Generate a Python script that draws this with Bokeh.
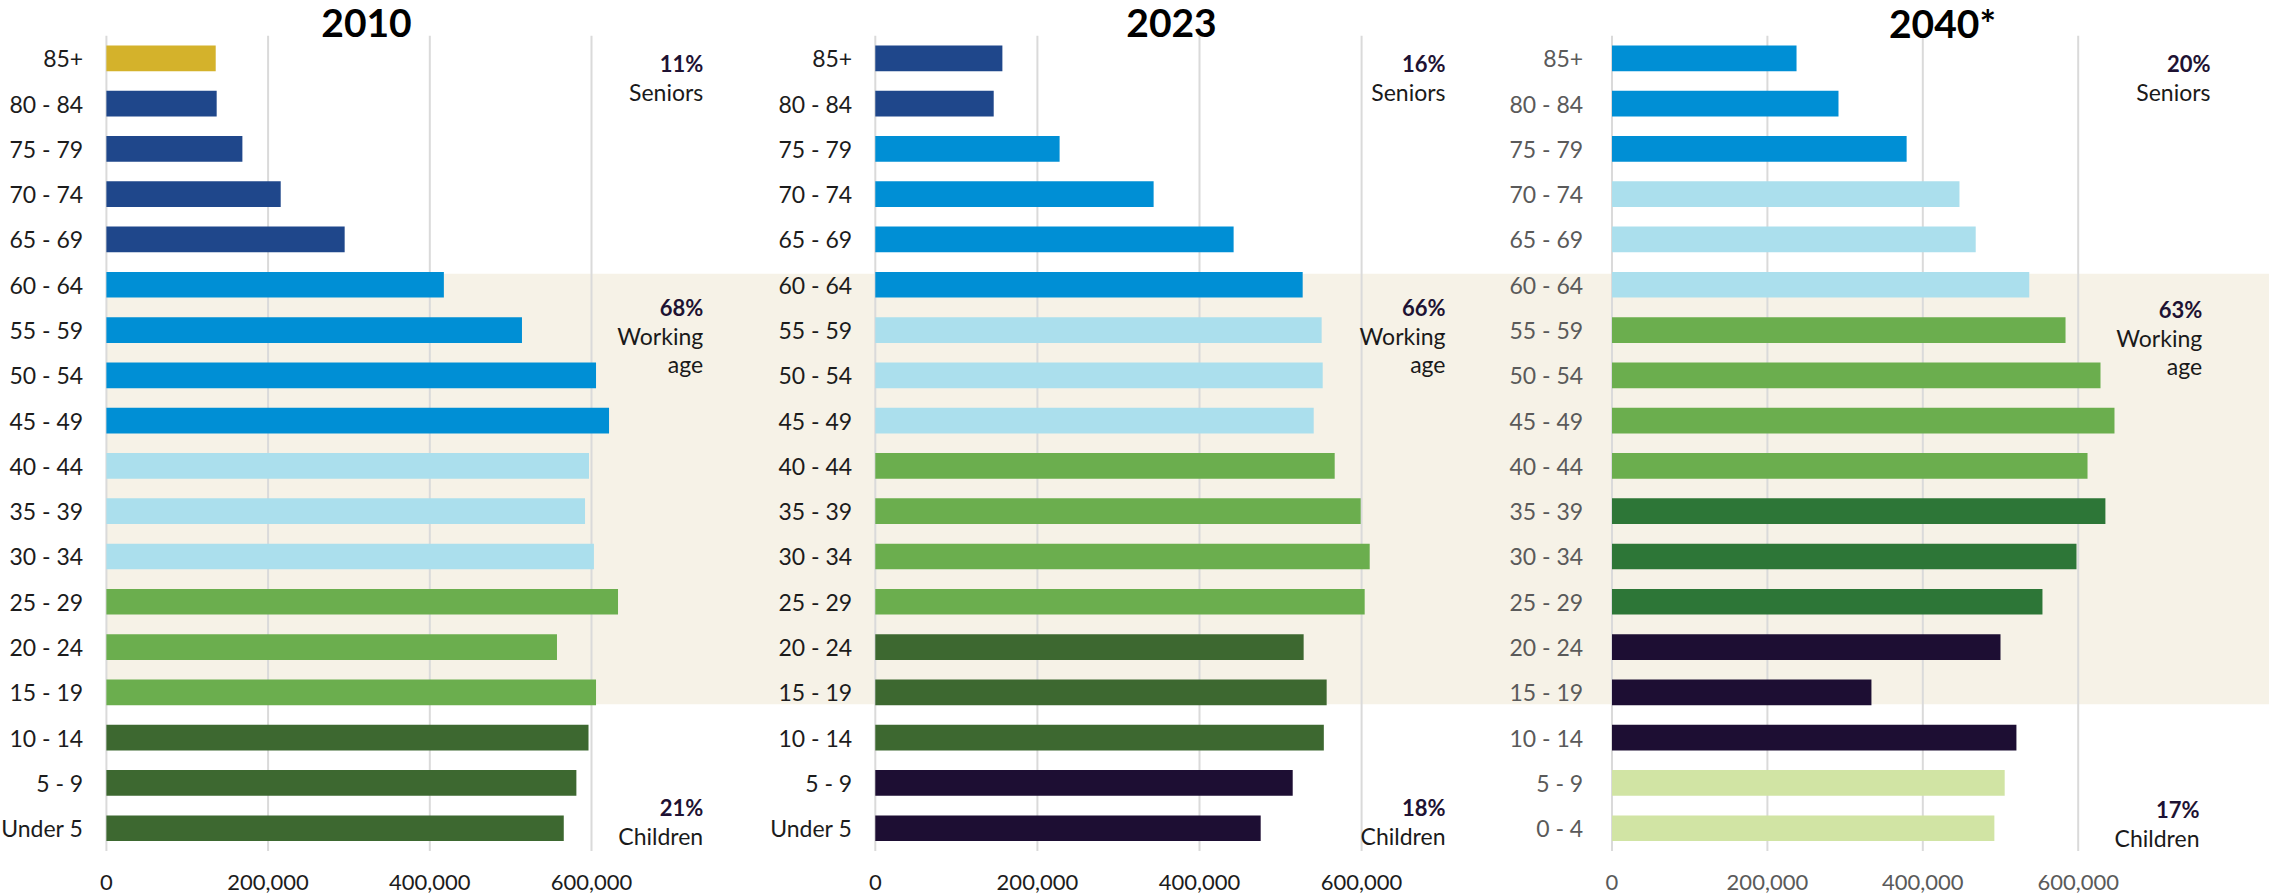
from bokeh.plotting import figure
from bokeh.models import (Range1d, FixedTicker, NumeralTickFormatter, ColumnDataSource,
                          LinearAxis)
from bokeh.embed import file_html
from bokeh.resources import INLINE
from bokeh.core.properties import value

# ---------------- data ----------------
years = ["2010", "2023", "2040*"]
ages = ["85+", "80 - 84", "75 - 79", "70 - 74", "65 - 69", "60 - 64", "55 - 59",
        "50 - 54", "45 - 49", "40 - 44", "35 - 39", "30 - 34", "25 - 29",
        "20 - 24", "15 - 19", "10 - 14", "5 - 9", "Under 5"]
ages_2040 = ["85+", "80 - 84", "75 - 79", "70 - 74", "65 - 69", "60 - 64", "55 - 59",
             "50 - 54", "45 - 49", "40 - 44", "35 - 39", "30 - 34", "25 - 29",
             "20 - 24", "15 - 19", "10 - 14", "5 - 9", "0 - 4"]

pop_2010 = [135200, 136400, 168200, 215600, 294700, 417400, 514000, 605600, 621700,
            596900, 592000, 603000, 632800, 557300, 605600, 596300, 581300, 565700]
pop_2023 = [156800, 146100, 227400, 343400, 442100, 527300, 550700, 552000, 540900,
            566800, 598900, 610000, 603800, 528500, 556900, 553400, 515000, 475500]
pop_2040 = [237500, 291500, 379200, 447200, 468100, 537000, 583700, 628700, 646700,
            612000, 635000, 597800, 554000, 500000, 333900, 520500, 505400, 492100]

gen_2010 = ["Greatest", "Silent", "Silent", "Silent", "Silent", "Boomers", "Boomers",
            "Boomers", "Boomers", "Gen X", "Gen X", "Gen X", "Millennials",
            "Millennials", "Millennials", "Gen Z", "Gen Z", "Gen Z"]
gen_2023 = ["Silent", "Silent", "Boomers", "Boomers", "Boomers", "Boomers", "Gen X",
            "Gen X", "Gen X", "Millennials", "Millennials", "Millennials", "Millennials",
            "Gen Z", "Gen Z", "Gen Z", "Gen Alpha", "Gen Alpha"]
gen_2040 = ["Boomers", "Boomers", "Boomers", "Gen X", "Gen X", "Gen X", "Millennials",
            "Millennials", "Millennials", "Millennials", "Gen Z", "Gen Z", "Gen Z",
            "Gen Alpha", "Gen Alpha", "Gen Alpha", "Gen Beta", "Gen Beta"]

share_2010 = ["11%", "68%", "21%"]
share_2023 = ["16%", "66%", "18%"]
share_2040 = ["20%", "63%", "17%"]
group_names = [["Seniors"], ["Working", "age"], ["Children"]]
working_span = ["60 - 64", "15 - 19"]
x_ticks = [0, 200000, 400000, 600000]

# ---------------- styles / layout ----------------
FONT = "Lato"
palette = {"Greatest": "#D4B22B", "Silent": "#1F478B", "Boomers": "#008FD5",
           "Gen X": "#ABDFED", "Millennials": "#6BAE4E", "Gen Z": "#3D6830",
           "Gen Alpha": "#1D0E33", "Gen Beta": "#D1E4A4"}
palette_2040 = dict(palette, **{"Gen Z": "#2D7637"})
BAND = "#F6F2E7"
GRID = "#DADADA"

W, H = 2269, 896
ROW = 45.29
Y0 = 57.8


def yi(page_y):
    return (page_y - Y0) / ROW


panels = [
    dict(name="default", title=years[0], ages=ages, pop=pop_2010, gen=gen_2010,
         share=share_2010, pal=palette, zero=105.9, scale=0.8085e-3,
         title_x=366, note_x=[702.7, 702.7, 702.7], gap=23.2, tcol="#1c1c1c", dy=0),
    dict(name="p2023", title=years[1], ages=ages, pop=pop_2023, gen=gen_2023,
         share=share_2023, pal=palette, zero=874.8, scale=0.8105e-3,
         title_x=1171, note_x=[1445, 1445, 1445], gap=23.1, tcol="#1c1c1c", dy=0),
    dict(name="p2040", title=years[2], ages=ages_2040, pop=pop_2040, gen=gen_2040,
         share=share_2040, pal=palette_2040, zero=1611.5, scale=0.777e-3,
         title_x=1942, note_x=[2210, 2201.7, 2199], gap=28.8, tcol="#5a5a5a", dy=2),
]


def page_range(cfg):
    return Range1d((0 - cfg["zero"]) / cfg["scale"], (W - cfg["zero"]) / cfg["scale"])


p = figure(width=W, height=H, x_range=page_range(panels[0]),
           y_range=Range1d(yi(H), yi(0)),
           output_backend="svg", toolbar_location=None, min_border=0)
p.extra_x_ranges = {cfg["name"]: page_range(cfg) for cfg in panels[1:]}
p.outline_line_color = None
p.background_fill_color = "white"
p.border_fill_color = "white"
p.yaxis.visible = False
p.xgrid.visible = False
p.ygrid.visible = False

# working-age band: from the 2010 zero line to the right edge
ia = ages.index(working_span[0])
ib = ages.index(working_span[1])
p.quad(left=[0], right=[p.x_range.end * 1.05], top=[ia - 0.245], bottom=[ib + 0.265],
       fill_color=BAND, line_color=None)

for cfg in panels:
    rn = cfg["name"]
    sc = cfg["scale"]
    n = len(cfg["ages"])
    idx = list(range(n))

    # vertical gridlines
    p.segment(x0=x_ticks, x1=x_ticks, y0=[-0.5] * len(x_ticks),
              y1=[n - 0.5] * len(x_ticks), line_color=GRID, line_width=2,
              x_range_name=rn)

    src = ColumnDataSource(dict(y=idx, pop=cfg["pop"], age=cfg["ages"],
                                color=[cfg["pal"][g] for g in cfg["gen"]]))
    p.hbar(y="y", left=0, right="pop", height=0.567, fill_color="color",
           line_color=None, source=src, x_range_name=rn)

    # category labels
    p.text(x=-cfg["gap"] / sc, y="y", text="age", source=src, text_align="right",
           text_baseline="middle", text_font=value(FONT), text_font_size="23px",
           text_color=cfg["tcol"], x_range_name=rn)

    # title
    p.text(x=[(cfg["title_x"] - cfg["zero"]) / sc], y=[yi(22.5)], text=[cfg["title"]],
           text_align="center", text_baseline="middle", text_font=value(FONT),
           text_font_style="bold", text_font_size="39px", text_color="#000000",
           x_range_name=rn)

    # group notes
    d = cfg["dy"]
    pct_y = [yi(62.9), yi(306.8 + d), yi(807 + d)]
    name_y = [[yi(91.7)], [yi(335.5 + d), yi(363.4 + d)], [yi(835.5 + d)]]
    for k in range(3):
        nx = (cfg["note_x"][k] - cfg["zero"]) / sc
        p.text(x=[nx], y=[pct_y[k]], text=[cfg["share"][k]], text_align="right",
               text_baseline="middle", text_font=value(FONT),
               text_font_style="bold", text_font_size="22px", text_color="#1E1233",
               x_range_name=rn)
        p.text(x=[nx] * len(group_names[k]), y=name_y[k], text=group_names[k],
               text_align="right", text_baseline="middle", text_font=value(FONT),
               text_font_size="23px", text_color="#1a1a1a", x_range_name=rn)

    if rn == "default":
        ax = p.xaxis[0]
    else:
        ax = LinearAxis(x_range_name=rn)
        p.add_layout(ax, "below")
    ax.fixed_location = n - 0.5
    ax.ticker = FixedTicker(ticks=x_ticks)
    ax.formatter = NumeralTickFormatter(format="0,0")
    ax.axis_line_color = None
    ax.major_tick_line_color = None
    ax.minor_tick_line_color = None
    ax.major_tick_out = 0
    ax.major_tick_in = 0
    ax.major_label_standoff = 24
    ax.major_label_text_font = FONT
    ax.major_label_text_font_size = "22px"
    ax.major_label_text_color = cfg["tcol"]

open("out.html", "w").write(file_html(p, INLINE))
